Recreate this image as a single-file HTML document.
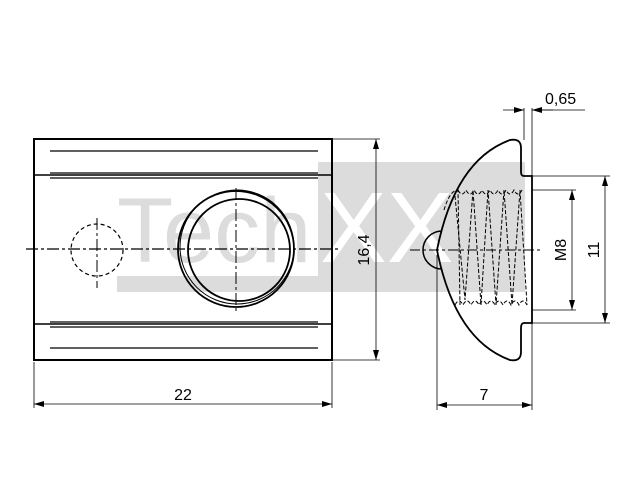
<!DOCTYPE html>
<html><head><meta charset="utf-8"><style>html,body{margin:0;padding:0;background:#fff}svg{display:block}</style></head>
<body>
<svg width="640" height="480" viewBox="0 0 640 480" xmlns="http://www.w3.org/2000/svg" font-family="Liberation Sans, sans-serif">
<defs>
<marker id="a" viewBox="0 0 10 6" refX="10" refY="3" markerWidth="10" markerHeight="6" orient="auto-start-reverse" markerUnits="userSpaceOnUse"><path d="M0,0 L10,3 L0,6z" fill="#000"/></marker>
</defs>
<!-- watermark -->
<rect x="318" y="162" width="207" height="130" fill="#dcdcdc"/>
<rect x="117" y="276" width="201" height="16" fill="#dcdcdc"/>
<text x="117" y="262" font-size="92" fill="#dcdcdc">Tech</text>
<text x="320" y="262" font-size="100" fill="#fff">XX</text>
<!-- front view -->
<g stroke="#000" fill="none">
<rect x="34" y="139" width="298" height="221" stroke-width="2"/>
<line x1="34" y1="175" x2="332" y2="175" stroke-width="1.5"/>
<line x1="34" y1="324" x2="332" y2="324" stroke-width="1.5"/>
<line x1="50" y1="151" x2="318" y2="151" stroke-width="1.2"/>
<line x1="50" y1="173" x2="318" y2="173" stroke-width="1.2"/>
<line x1="50" y1="178" x2="318" y2="178" stroke-width="1.2"/>
<line x1="50" y1="322" x2="318" y2="322" stroke-width="1.2"/>
<line x1="50" y1="327" x2="318" y2="327" stroke-width="1.2"/>
<line x1="50" y1="348" x2="318" y2="348" stroke-width="1.2"/>
<circle cx="236" cy="249" r="58" stroke-width="1.8"/>
<circle cx="237" cy="247" r="57" stroke-width="1"/>
<circle cx="239" cy="250" r="51" stroke-width="1.8"/>
<circle cx="97" cy="250" r="26" stroke-dasharray="4,3" stroke-width="1.2"/>
<line x1="26" y1="249" x2="340" y2="249" stroke-dasharray="12,3,3,3" stroke-width="1.2"/>
<line x1="236" y1="188" x2="236" y2="312" stroke-dasharray="12,3,3,3" stroke-width="1"/>
<line x1="97" y1="218" x2="97" y2="288" stroke-dasharray="12,3,3,3" stroke-width="1"/>
</g>
<!-- dims front -->
<g stroke="#000" stroke-width="0.8" fill="none">
<line x1="332" y1="139" x2="380" y2="139"/>
<line x1="332" y1="360" x2="380" y2="360"/>
<line x1="376" y1="139" x2="376" y2="360" marker-start="url(#a)" marker-end="url(#a)"/>
<line x1="34" y1="362" x2="34" y2="408"/>
<line x1="332" y1="362" x2="332" y2="408"/>
<line x1="34" y1="404" x2="332" y2="404" marker-start="url(#a)" marker-end="url(#a)"/>
</g>
<text x="183" y="400" font-size="16" text-anchor="middle">22</text>
<text transform="translate(369,250) rotate(-90)" font-size="16" text-anchor="middle">16,4</text>
<!-- side view -->
<g stroke="#000" fill="none" stroke-width="1.8">
<path d="M532,176 L524,176 Q521,176 521,172 L521,148 Q521,138 510,140 Q455,160 437,250 Q455,340 510,360 Q521,362 521,352 L521,328 Q521,323 524,323 L532,323 Z"/>
<path d="M442,231 A19,19 0 0 0 442,269" stroke-width="1.5"/>
</g>
<g stroke="#000" fill="none" stroke-width="1" stroke-dasharray="4,2">
<path d="M455,196 L465,300 L473,190 L481,305 L488,190 L496,305 L504,190 L512,305 L520,190 L527,305"/>
<path d="M444,210 Q450,190 458,190 L460,305"/>
<path d="M458,190 q4,8 8,0 q4,8 8,0 q4,8 8,0 q4,8 8,0 q4,8 8,0 q4,8 8,0 q4,8 8,0 q4,8 8,0"/>
<path d="M455,305 q4,-8 8,0 q4,-8 8,0 q4,-8 8,0 q4,-8 8,0 q4,-8 8,0 q4,-8 8,0 q4,-8 8,0 q4,-8 8,0 q4,-8 8,0"/>
<line x1="410" y1="250" x2="540" y2="250" stroke-dasharray="10,3,3,3"/>
</g>
<g stroke="#000" stroke-width="0.8" fill="none">
<line x1="524" y1="108" x2="524" y2="140"/>
<line x1="532" y1="108" x2="532" y2="176"/>
<line x1="503" y1="110" x2="524" y2="110" marker-end="url(#a)"/>
<line x1="553" y1="110" x2="532" y2="110" marker-end="url(#a)"/>
<line x1="532" y1="110" x2="585" y2="110"/>
<line x1="532" y1="176" x2="610" y2="176"/>
<line x1="532" y1="323" x2="610" y2="323"/>
<line x1="605" y1="176" x2="605" y2="323" marker-start="url(#a)" marker-end="url(#a)"/>
<line x1="532" y1="190" x2="576" y2="190"/>
<line x1="532" y1="310" x2="576" y2="310"/>
<line x1="572" y1="190" x2="572" y2="310" marker-start="url(#a)" marker-end="url(#a)"/>
<line x1="437" y1="255" x2="437" y2="410"/>
<line x1="532" y1="323" x2="532" y2="410"/>
<line x1="437" y1="405" x2="532" y2="405" marker-start="url(#a)" marker-end="url(#a)"/>
</g>
<text x="545" y="104" font-size="16">0,65</text>
<text x="484" y="400" font-size="16" text-anchor="middle">7</text>
<text transform="translate(566,250) rotate(-90)" font-size="16" text-anchor="middle">M8</text>
<text transform="translate(599,250) rotate(-90)" font-size="16" text-anchor="middle">11</text>
</svg>
</body></html>
